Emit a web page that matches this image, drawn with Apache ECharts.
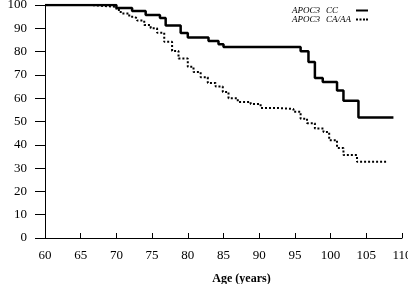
<!DOCTYPE html>
<html>
<head>
<meta charset="utf-8">
<script src="https://cdn.jsdelivr.net/npm/echarts@6/dist/echarts.min.js"></script>
<style>
html,body{margin:0;padding:0;background:#fff;}
#c{width:408px;height:284px;}
</style>
</head>
<body>
<div id="c"></div>
<script>
// Data (Kaplan-Meier style step curves)
var seriesNames = ['APOC3 CC', 'APOC3 CA/AA'];
var ccAges = [60, 70, 72.2, 74.1, 76.1, 76.9, 79, 80, 82.9, 84.3, 85, 95.8, 96.9, 97.8, 98.9, 100.9, 101.8, 103.9, 108.8];
var ccSurv = [100, 98.7, 97.4, 95.7, 94.4, 91.2, 88, 86, 84.6, 83.2, 82, 80.2, 75.5, 68.7, 67, 63.3, 58.9, 51.7, 51.7];
var caAges = [60, 66.4, 70, 70.6, 71.8, 72.5, 72.9, 73.9, 74.8, 75.7, 76.7, 77.8, 78.7, 80, 80.8, 81.8, 82.8, 83.9, 84.9, 85.7, 87, 88.8, 90.2, 92.5, 94.8, 95.8, 96.7, 97.8, 99, 99.8, 100.9, 101.8, 103.7, 107.9];
var caSurv = [100, 99.2, 97.9, 96.4, 95, 94.3, 93.3, 91.4, 90, 88.1, 84.2, 80.3, 77, 73.5, 71.2, 69, 66.5, 65, 62.7, 60, 58.4, 57.5, 55.8, 55.4, 54.2, 51.2, 49.3, 47, 45.5, 42, 38.6, 35.6, 32.7, 32.7];
var xTicks = [60, 65, 70, 75, 80, 85, 90, 95, 100, 105, 110];
var yTicks = [0, 10, 20, 30, 40, 50, 60, 70, 80, 90, 100];

function zip(a, b) { return a.map(function (v, i) { return [v, b[i]]; }); }

var serif = '"Liberation Serif", "DejaVu Serif", serif';
var legendFont = 'italic 9px ' + serif;
var ctx = document.createElement('canvas').getContext('2d');
ctx.font = legendFont;
function textW(s) { return ctx.measureText(s).width; }
var genoWidths = seriesNames.map(function (n) { return textW(n.split(' ')[1]); });
var maxGeno = Math.max.apply(null, genoWidths);

var legendIcons = {
  'APOC3 CC': 'path://M0,0h12v2h-12z',
  'APOC3 CA/AA': 'path://M0,0h2v2h-2zM3.5,0h2v2h-2zM7,0h2v2h-2zM10,0h2v2h-2z'
};
var richStyles = {
  a: {padding: [0, 6, 0, 0], fontFamily: serif, fontStyle: 'italic', fontSize: 9, lineHeight: 8, color: '#000'}
};
seriesNames.forEach(function (n, i) {
  richStyles['b' + i] = {padding: [0, Math.round(maxGeno - genoWidths[i]), 0, 0], fontFamily: serif, fontStyle: 'italic', fontSize: 9, lineHeight: 8, color: '#000'};
});

var chart = echarts.init(document.getElementById('c'), null, {renderer: 'canvas'});
chart.setOption({
  animation: false,
  backgroundColor: '#ffffff',
  grid: {left: 45, right: 6, top: 5, bottom: 46, containLabel: false, outerBoundsMode: 'none'},
  legend: {
    orient: 'vertical',
    right: 35,
    top: 1,
    align: 'right',
    itemWidth: 12,
    itemHeight: 2,
    itemGap: 0,
    data: seriesNames.map(function (n) { return {name: n, icon: legendIcons[n]}; }),
    formatter: function (name) {
      var parts = name.split(' ');
      var i = seriesNames.indexOf(name);
      return '{a|' + parts[0] + '}{b' + i + '|' + parts[1] + '}';
    },
    textStyle: {
      fontFamily: serif,
      fontStyle: 'italic',
      fontSize: 9,
      lineHeight: 8,
      color: '#000',
      rich: richStyles
    }
  },
  xAxis: {
    type: 'value',
    min: xTicks[0],
    max: xTicks[xTicks.length - 1],
    interval: 5,
    name: 'Age (years)',
    nameLocation: 'middle',
    nameGap: 35,
    nameTextStyle: {fontFamily: serif, fontWeight: 'bold', fontSize: 12, color: '#000', padding: [0, 0, 0, 36]},
    axisLine: {show: true, lineStyle: {color: '#000', width: 1}},
    axisTick: {show: true, inside: true, length: 5, lineStyle: {color: '#000'}},
    axisLabel: {fontFamily: serif, fontSize: 13, color: '#000', margin: 11},
    splitLine: {show: false}
  },
  yAxis: {
    type: 'value',
    min: yTicks[0],
    max: yTicks[yTicks.length - 1],
    interval: 10,
    name: 'Surviving (%)',
    nameLocation: 'middle',
    nameGap: 30,
    nameTextStyle: {fontFamily: serif, fontWeight: 'bold', fontSize: 12, color: '#000'},
    axisLine: {show: true, lineStyle: {color: '#000', width: 1}},
    axisTick: {show: true, inside: false, length: 10, lineStyle: {color: '#000'}},
    axisLabel: {fontFamily: serif, fontSize: 13, color: '#000', margin: 18},
    splitLine: {show: false}
  },
  series: [
    {
      name: seriesNames[0],
      type: 'line',
      step: 'end',
      symbol: 'none',
      data: zip(ccAges, ccSurv),
      lineStyle: {color: '#000', width: 2.5, type: 'solid'},
      itemStyle: {color: '#000'},
      z: 3
    },
    {
      name: seriesNames[1],
      type: 'line',
      step: 'end',
      symbol: 'none',
      data: zip(caAges, caSurv),
      lineStyle: {color: '#000', width: 2, type: [2, 2]},
      itemStyle: {color: '#000'},
      z: 2
    }
  ]
});
</script>
</body>
</html>
